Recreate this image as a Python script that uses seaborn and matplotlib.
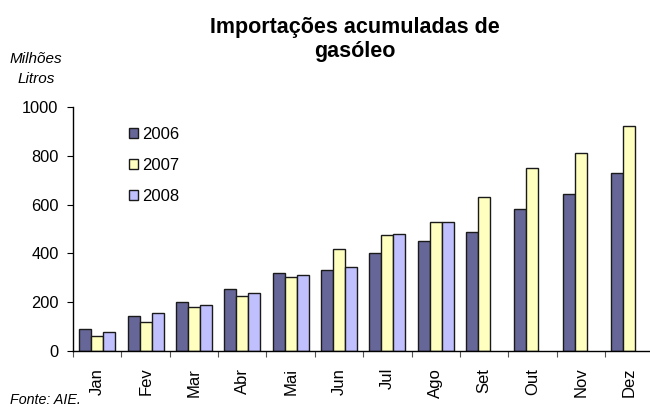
import numpy as np
import pandas as pd
import seaborn as sns
import matplotlib
matplotlib.use("Agg")
import matplotlib.pyplot as plt

meses = ["Jan", "Fev", "Mar", "Abr", "Mai", "Jun", "Jul", "Ago", "Set", "Out", "Nov", "Dez"]
anos = ["2006", "2007", "2008"]
v2006 = [90, 145, 201, 254, 318, 334, 401, 450, 486, 583, 644, 730]
v2007 = [60, 120, 182, 224, 305, 420, 475, 528, 632, 750, 810, 921]
v2008 = [78, 157, 187, 237, 310, 346, 480, 528, None, None, None, None]
cores = ["#666699", "#FFFFC0", "#C0C0FF"]


def build_frame():
    rows = []
    for ano, vals in zip(anos, [v2006, v2007, v2008]):
        for mes, v in zip(meses, vals):
            if v is not None:
                rows.append({"mes": mes, "ano": ano, "valor": v})
    return pd.DataFrame(rows)


def main():
    sns.set_style("ticks")
    plt.rcParams["font.family"] = ["Liberation Sans", "DejaVu Sans"]
    plt.rcParams["text.color"] = "black"
    plt.rcParams["xtick.labelcolor"] = "black"
    plt.rcParams["ytick.labelcolor"] = "black"

    df = build_frame()
    fig = plt.figure(figsize=(6.5, 4.07), dpi=100)
    ax = fig.add_axes([0.1125, 0.1376, 1.005 - 0.1125, 0.7371 - 0.1376])

    sns.barplot(data=df, x="mes", y="valor", hue="ano", order=meses, hue_order=anos,
                palette=cores, width=0.75, edgecolor="#1a1a1a", linewidth=1.0,
                errorbar=None, saturation=1, ax=ax)

    ax.set_xlim(-0.5, 11.5)
    ax.set_ylim(0, 1000)
    ax.set_yticks(np.arange(0, 1001, 200))
    ax.set_xlabel("")
    ax.set_ylabel("")
    sns.despine(ax=ax)
    for s in ["left", "bottom"]:
        ax.spines[s].set_color("black")
        ax.spines[s].set_linewidth(1.0)

    ax.set_xticks(np.arange(-0.5, 11, 1), minor=True)
    ax.tick_params(axis="x", which="major", length=0, pad=12, labelsize=12,
                   labelrotation=90, labelcolor="black")
    ax.tick_params(axis="x", which="minor", length=4, width=0.8, color="#555555")
    ax.tick_params(axis="y", length=4, width=0.8, pad=6.5, labelsize=11.8,
                   color="black", labelcolor="black")

    handles, labels = ax.get_legend_handles_labels()
    ax.legend(handles, labels, loc="upper left", bbox_to_anchor=(0.085, 0.945),
              frameon=False, fontsize=12, handlelength=0.55, handleheight=0.55,
              handletextpad=0.25, labelspacing=0.95, borderaxespad=0)

    fig.text(0.546, 0.918, "Importações acumuladas de", ha="center", va="baseline",
             fontsize=15.5, fontweight="bold")
    fig.text(0.546, 0.859, "gasóleo", ha="center", va="baseline",
             fontsize=15.5, fontweight="bold")
    fig.text(36 / 650, 1 - 63 / 407, "Milhões", ha="center", va="baseline",
             fontsize=11, style="italic")
    fig.text(36 / 650, 1 - 83 / 407, "Litros", ha="center", va="baseline",
             fontsize=11, style="italic")
    fig.text(10 / 650, 1 - 404 / 407, "Fonte: AIE.", ha="left", va="baseline",
             fontsize=10.3, style="italic")

    fig.savefig("out.png", dpi=100)


if __name__ == "__main__":
    main()
